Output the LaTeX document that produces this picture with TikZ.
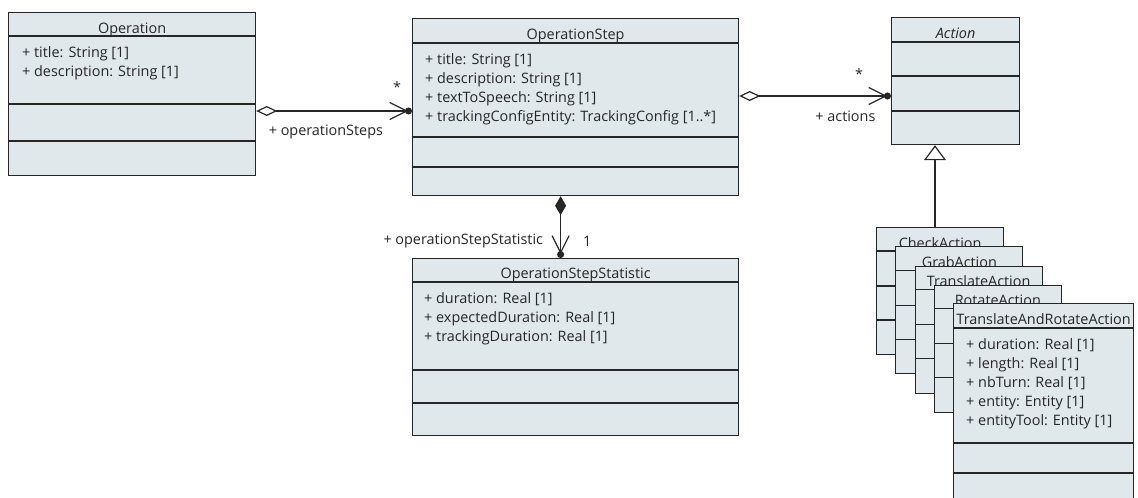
\documentclass[tikz,border=0pt]{standalone}
\usepackage{fontspec}
\setmainfont{Open Sans}
\usepackage{tikz}
\usepackage{xcolor}
\usetikzlibrary{shapes.geometric, arrows.meta, positioning, calc}

\definecolor{classfill}{HTML}{E0E8EC}
\definecolor{umlline}{HTML}{262626}

\tikzset{
  classbox/.style={draw=umlline, fill=classfill, line width=1.2pt, anchor=north west, inner sep=0pt},
  classname/.style={font=\fontsize{14.4}{19}\selectfont, text=umlline, anchor=base, inner sep=0pt},
  attrs/.style={font=\fontsize{14.4}{19}\selectfont, text=umlline, align=left, anchor=north west, inner sep=0pt},
  lbl/.style={font=\fontsize{14.4}{19}\selectfont, text=umlline, inner sep=0pt},
  divider/.style={draw=umlline, line width=1.2pt},
  ownedend/.tip={Straight Barb[length=17pt, width=17pt, sep=-3pt] Circle[length=7pt]},
  aggr/.style={draw=umlline, line width=1.2pt, {Diamond[open, length=21pt, width=10pt]}-{ownedend}},
  compo/.style={draw=umlline, line width=1.2pt, {Diamond[length=19pt, width=11pt]}-{ownedend}},
  gener/.style={draw=umlline, line width=1.2pt, -{Triangle[open, length=15pt, width=22pt]}}
}

\begin{document}
\begin{tikzpicture}[x=1pt, y=-1pt]
  \clip (0,0) rectangle (1138,498);

  % Operation
  \node[classbox, minimum width=247pt, minimum height=163pt] (op) at (8,12) {};
  \node[classname] at ($(op.north)+(0,21)$) {Operation};
  \draw[divider] ($(op.north west)+(0,24)$) -- ($(op.north east)+(0,24)$);
  \node[attrs] at ($(op.north west)+(14,34)$) {+ title: String [1]\\+ description: String [1]};
  \draw[divider] ($(op.north west)+(0,92)$) -- ($(op.north east)+(0,92)$);
  \draw[divider] ($(op.north west)+(0,129)$) -- ($(op.north east)+(0,129)$);

  % OperationStep
  \node[classbox, minimum width=326pt, minimum height=177pt] (opstep) at (412,18) {};
  \node[classname] at ($(opstep.north)+(0,21)$) {OperationStep};
  \draw[divider] ($(opstep.north west)+(0,25)$) -- ($(opstep.north east)+(0,25)$);
  \node[attrs] at ($(opstep.north west)+(13,35)$) {+ title: String [1]\\+ description: String [1]\\+ textToSpeech: String [1]\\+ trackingConfigEntity: TrackingConfig [1..*]};
  \draw[divider] ($(opstep.north west)+(0,119)$) -- ($(opstep.north east)+(0,119)$);
  \draw[divider] ($(opstep.north west)+(0,149)$) -- ($(opstep.north east)+(0,149)$);

  % Action
  \node[classbox, minimum width=128pt, minimum height=127pt] (act) at (891,17) {};
  \node[classname] at ($(act.north)+(0,21)$) {\itshape Action};
  \draw[divider] ($(act.north west)+(0,25)$) -- ($(act.north east)+(0,25)$);
  \draw[divider] ($(act.north west)+(0,59)$) -- ($(act.north east)+(0,59)$);
  \draw[divider] ($(act.north west)+(0,94)$) -- ($(act.north east)+(0,94)$);

  % OperationStepStatistic
  \node[classbox, minimum width=326pt, minimum height=177pt] (stat) at (412,258) {};
  \node[classname] at ($(stat.north)+(0,20)$) {OperationStepStatistic};
  \draw[divider] ($(stat.north west)+(0,24)$) -- ($(stat.north east)+(0,24)$);
  \node[attrs] at ($(stat.north west)+(12,34)$) {+ duration: Real [1]\\+ expectedDuration: Real [1]\\+ trackingDuration: Real [1]};
  \draw[divider] ($(stat.north west)+(0,112)$) -- ($(stat.north east)+(0,112)$);
  \draw[divider] ($(stat.north west)+(0,145)$) -- ($(stat.north east)+(0,145)$);

  % stacked action subclasses
  \foreach \name/\title/\i in {check/CheckAction/0, grab/GrabAction/1, transl/TranslateAction/2, rot/RotateAction/3} {
    \node[classbox, minimum width=127pt, minimum height=127pt] (\name) at ({876+19.25*\i},{227+19.25*\i}) {};
    \node[classname] at ($(\name.north)+(0,21)$) {\title};
    \draw[divider] ($(\name.north west)+(0,24)$) -- ($(\name.north east)+(0,24)$);
    \draw[divider] ($(\name.north west)+(0,59)$) -- ($(\name.north east)+(0,59)$);
    \draw[divider] ($(\name.north west)+(0,93)$) -- ($(\name.north east)+(0,93)$);
  }

  % TranslateAndRotateAction
  \node[classbox, minimum width=180pt, minimum height=205pt] (transrot) at (953,303) {};
  \node[classname] at ($(transrot.north)+(0,21)$) {TranslateAndRotateAction};
  \draw[divider] ($(transrot.north west)+(0,25)$) -- ($(transrot.north east)+(0,25)$);
  \node[attrs] at ($(transrot.north west)+(13,35)$) {+ duration: Real [1]\\+ length: Real [1]\\+ nbTurn: Real [1]\\+ entity: Entity [1]\\+ entityTool: Entity [1]};
  \draw[divider] ($(transrot.north west)+(0,140)$) -- ($(transrot.north east)+(0,140)$);
  \draw[divider] ($(transrot.north west)+(0,170)$) -- ($(transrot.north east)+(0,170)$);

  % associations
  \draw[aggr] ($(op.north east)+(0,99)$) coordinate (a1) -- (a1 -| opstep.west)
    node[lbl, pos=0, anchor=west, xshift=12pt, yshift=-21pt] {+ operationSteps}
    node[lbl, pos=1, anchor=base, xshift=-15pt, yshift=19pt] {*};
  \draw[aggr] ($(opstep.north east)+(0,78)$) coordinate (a2) -- (a2 -| act.west)
    node[lbl, pos=1, anchor=base, xshift=-32pt, yshift=17pt] {*}
    node[lbl, pos=1, anchor=east, xshift=-15pt, yshift=-20pt] {+ actions};
  \draw[compo] ($(opstep.south)+(-15,0)$) coordinate (a3) -- (a3 |- stat.north)
    node[lbl, pos=1, anchor=east, xshift=-17pt, yshift=17pt] {+ operationStepStatistic}
    node[lbl, pos=1, anchor=west, xshift=22pt, yshift=17pt] {1};
  \draw[gener] ($(check.north west)+(59,0)$) coordinate (a4) -- (a4 |- act.south);
\end{tikzpicture}
\end{document}
